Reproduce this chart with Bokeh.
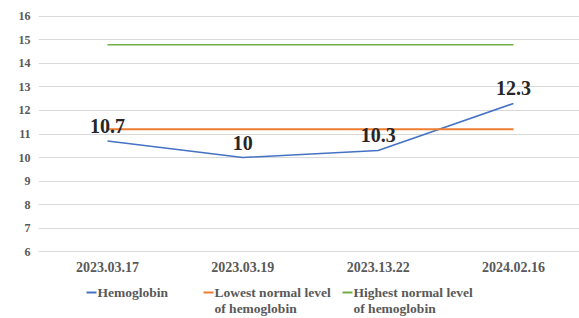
from bokeh.plotting import figure
from bokeh.layouts import column
from bokeh.models import Range1d, FixedTicker, ColumnDataSource, LabelSet
from bokeh.core.properties import value
from bokeh.embed import file_html
from bokeh.resources import INLINE

dates = ["2023.03.17", "2023.03.19", "2023.13.22", "2024.02.16"]
hemoglobin = [10.7, 10.0, 10.3, 12.3]
hemoglobin_labels = ["10.7", "10", "10.3", "12.3"]
lowest_normal = [11.2, 11.2, 11.2, 11.2]
highest_normal = [14.8, 14.8, 14.8, 14.8]
y_ticks = [6, 7, 8, 9, 10, 11, 12, 13, 14, 15, 16]
series_names = [["Hemoglobin"], ["Lowest normal level", "of hemoglobin"],
                ["Highest normal level", "of hemoglobin"]]
series_colors = ["#4472C4", "#ED7D31", "#70AD47"]

xs = [i + 0.5 for i in range(len(dates))]

FONT = "Liberation Serif"
GREY = "#595959"

p = figure(width=579, height=278, output_backend="svg", toolbar_location=None,
           x_range=Range1d(-0.01, 3.988), y_range=Range1d(5.96, 16.04),
           min_border_left=38, min_border_right=0, min_border_top=15, min_border_bottom=26)
p.outline_line_color = None
p.background_fill_color = "white"
p.border_fill_color = "white"

p.xgrid.grid_line_color = None
p.ygrid.grid_line_color = "#D9D9D9"
p.ygrid.grid_line_width = 1

p.yaxis.ticker = FixedTicker(ticks=y_ticks)
p.xaxis.ticker = FixedTicker(ticks=xs)
p.xaxis.major_label_overrides = {x: d for x, d in zip(xs, dates)}
for ax in (p.xaxis, p.yaxis):
    ax.axis_line_color = None
    ax.major_tick_line_color = None
    ax.minor_tick_line_color = None
    ax.major_tick_in = 0
    ax.major_tick_out = 0
    ax.major_label_text_font = FONT
    ax.major_label_text_font_style = "bold"
    ax.major_label_text_color = GREY
p.yaxis.major_label_text_font_size = "12px"
p.yaxis.major_label_standoff = 8
p.xaxis.major_label_text_font_size = "14px"
p.xaxis.major_label_standoff = 9

p.line(xs, hemoglobin, line_color=series_colors[0], line_width=1.5)
p.line(xs, lowest_normal, line_color=series_colors[1], line_width=2)
p.line(xs, highest_normal, line_color=series_colors[2], line_width=1.5)

src = ColumnDataSource(dict(x=xs, y=hemoglobin, t=hemoglobin_labels))
p.add_layout(LabelSet(x="x", y="y", text="t", source=src, text_align="center",
                      text_baseline="middle", y_offset=15, text_font=FONT,
                      text_font_style="bold", text_font_size="20px", text_color="#262626"))

# legend strip below the chart (its frame is aligned with the chart frame: x 38..579)
lg = figure(width=579, height=40, output_backend="svg", toolbar_location=None,
            x_range=Range1d(38, 579), y_range=Range1d(0, 40),
            x_axis_location=None, y_axis_location=None,
            min_border=0, min_border_left=38, min_border_right=0,
            min_border_top=0, min_border_bottom=0)
lg.grid.visible = False
lg.outline_line_color = None
lg.background_fill_color = "white"
lg.border_fill_color = "white"

entry_x = [86, 203, 342]
for names, color, ex in zip(series_names, series_colors, entry_x):
    lg.segment(x0=[ex], y0=[26], x1=[ex + 10], y1=[26], line_color=color, line_width=2)
    ys = [26 - 16 * i for i in range(len(names))]
    lg.text(x=[ex + 11] * len(names), y=ys, text=names, text_font=value(FONT),
            text_font_style="bold", text_font_size="13.5px", text_color=GREY,
            text_baseline="middle", text_align="left")

open("out.html", "w").write(file_html(column(p, lg, spacing=0), INLINE))
